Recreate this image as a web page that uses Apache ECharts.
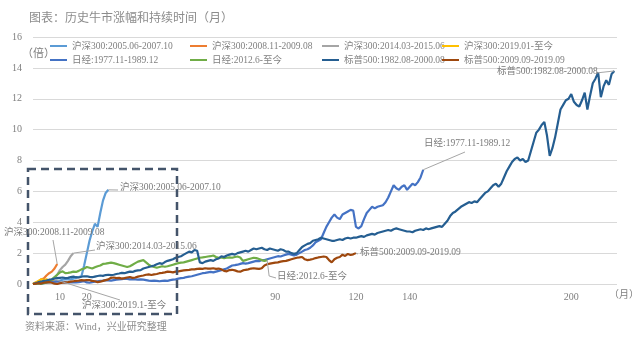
<!DOCTYPE html>
<html>
<head>
<meta charset="utf-8">
<script src="https://cdn.jsdelivr.net/npm/echarts@6/dist/echarts.min.js"></script>
<style>
  html, body { margin: 0; padding: 0; background: #fff; }
  #chart { width: 640px; height: 341px; }
</style>
</head>
<body>
<div id="chart"></div>
<script>
// Cumulative gain (multiple) by month since each bull market began
const seriesNames = [
  '沪深300:2005.06-2007.10',
  '沪深300:2008.11-2009.08',
  '沪深300:2014.03-2015.06',
  '沪深300:2019.01-至今',
  '日经:1977.11-1989.12',
  '日经:2012.6-至今',
  '标普500:1982.08-2000.08',
  '标普500:2009.09-2019.09'
];

const csi300_2005 = [0, 0.02, 0.05, 0.0, 0.05, 0.08, 0.1, 0.12, 0.15, 0.2,
  0.22, 0.28, 0.3, 0.32, 0.3, 0.35, 0.4, 0.45, 0.5, 1.2,
  2.0, 2.8, 3.4, 3.9, 3.7, 4.6, 5.4, 5.9, 6.1];

const csi300_2008 = [0, 0.1, 0.15, 0.3, 0.35, 0.55, 0.7, 0.8, 1.0, 1.3];

const csi300_2014 = [0, 0.02, 0.05, 0.03, 0.08, 0.12, 0.15, 0.2, 0.35, 0.6,
  0.9, 1.1, 1.25, 1.5, 1.8, 2.0];

const csi300_2019 = [0, 0.1, 0.2, 0.3, 0.25, 0.3, 0.22, 0.25, 0.3];

const nikkei_1977 = [0, 0.03, 0.05, 0.08, 0.1, 0.12, 0.15, 0.13, 0.16, 0.15,
  0.15, 0.12, 0.1, 0.08, 0.1, 0.12, 0.1, 0.12, 0.15, 0.18,
  0.1, 0.08, 0.12, 0.15, 0.18, 0.2, 0.22, 0.25, 0.24, 0.22,
  0.25, 0.28, 0.3, 0.32, 0.35, 0.33, 0.3, 0.32, 0.3, 0.28,
  0.3, 0.28, 0.25, 0.22, 0.2, 0.22, 0.2, 0.18, 0.2, 0.22,
  0.2, 0.25, 0.28, 0.3, 0.35, 0.38, 0.4, 0.45, 0.48, 0.5,
  0.55, 0.6, 0.65, 0.7, 0.72, 0.75, 0.78, 0.75, 0.8, 0.85,
  0.9, 0.95, 1.0, 1.1, 1.2, 1.22, 1.25, 1.3, 1.35, 1.32,
  1.35, 1.4, 1.45, 1.5, 1.48, 1.55, 1.55, 1.6, 1.65, 1.7,
  1.75, 1.8, 1.78, 1.85, 1.9, 1.95, 1.9, 1.85, 1.9, 2.0,
  2.1, 2.2, 2.25, 2.35, 2.5, 2.7, 2.8, 2.9, 3.3, 3.7,
  4.0, 4.3, 4.5, 4.3, 4.2, 4.5, 4.6, 4.7, 4.8, 4.75,
  3.7, 3.6, 3.75, 4.2, 4.6, 4.8, 5.0, 4.9, 5.0, 5.05,
  5.1, 5.3, 5.6, 6.0, 6.4, 6.2, 6.1, 6.3, 6.4, 6.1,
  6.3, 6.5, 6.4, 6.6, 6.9, 7.4];

const nikkei_2012 = [0, 0.02, 0.05, 0.03, 0.05, 0.1, 0.2, 0.3, 0.45, 0.6,
  0.75, 0.82, 0.7, 0.72, 0.75, 0.8, 0.78, 0.85, 0.95, 1.0,
  1.1, 1.05, 1.0, 1.08, 1.15, 1.2, 1.3, 1.32, 1.35, 1.38,
  1.35, 1.3, 1.25, 1.2, 1.15, 1.1, 1.15, 1.25, 1.35, 1.45,
  1.5, 1.55, 1.4, 1.25, 1.15, 1.1, 1.05, 1.1, 1.15, 1.12,
  1.15, 1.2, 1.25, 1.3, 1.35, 1.38, 1.4, 1.45, 1.5, 1.55,
  1.6, 1.65, 1.7, 1.72, 1.75, 1.78, 1.8, 1.85, 1.75, 1.7,
  1.72, 1.68, 1.7, 1.72, 1.7, 1.75, 1.78, 1.72, 1.5, 1.55,
  1.6, 1.65, 1.7, 1.68, 1.62, 1.55, 1.5, 1.55];

const sp500_1982 = [0, 0.05, 0.12, 0.15, 0.2, 0.22, 0.28, 0.3, 0.35, 0.38,
  0.4, 0.42, 0.38, 0.4, 0.45, 0.48, 0.44, 0.42, 0.47, 0.5,
  0.5, 0.46, 0.44, 0.48, 0.52, 0.55, 0.53, 0.58, 0.6, 0.57,
  0.6, 0.65, 0.68, 0.72, 0.7, 0.75, 0.8, 0.78, 0.85, 0.88,
  0.9, 1.0, 1.05, 1.1, 1.15, 1.2, 1.28, 1.35, 1.3, 1.42,
  1.5, 1.55, 1.6, 1.7, 1.75, 1.8, 1.9, 2.0, 2.1, 2.05,
  2.2, 2.15, 1.4, 1.35, 1.45, 1.5, 1.55, 1.5, 1.6, 1.65,
  1.8, 1.75, 1.85, 1.9, 1.95, 1.9, 2.0, 2.05, 2.1, 2.15,
  2.1, 2.2, 2.3, 2.25, 2.3, 2.35, 2.25, 2.2, 2.3, 2.25,
  2.2, 2.15, 2.25, 2.2, 2.1, 2.1, 2.0, 1.95, 2.0, 2.2,
  2.4, 2.5, 2.6, 2.65, 2.8, 2.85, 2.9, 3.0, 2.95, 2.9,
  2.85, 2.8, 2.8, 2.85, 2.9, 2.85, 2.95, 3.0, 2.95, 3.0,
  3.0, 3.05, 3.1, 3.05, 3.15, 3.2, 3.25, 3.2, 3.3, 3.35,
  3.4, 3.45, 3.5, 3.45, 3.55, 3.6, 3.55, 3.5, 3.45, 3.4,
  3.4, 3.35, 3.45, 3.5, 3.55, 3.5, 3.6, 3.55, 3.6, 3.65,
  3.7, 3.75, 3.7, 3.9, 4.1, 4.4, 4.6, 4.7, 4.85, 5.0,
  5.1, 5.2, 5.3, 5.25, 5.35, 5.3, 5.5, 5.7, 5.9, 6.0,
  6.2, 6.4, 6.5, 6.3, 6.5, 6.9, 7.3, 7.6, 7.9, 8.1,
  8.2, 8.0, 8.1, 7.9, 8.0, 8.6, 9.2, 9.8, 10.0, 10.3,
  10.5, 9.6, 8.3, 8.8, 9.5, 10.4, 11.3, 11.6, 11.9, 12.0,
  12.3, 11.8, 11.6, 11.5, 11.9, 12.4, 11.3, 12.2, 13.0, 13.3,
  13.7, 12.1, 12.8, 13.2, 12.9, 13.6, 13.8];

const sp500_2009 = [0, 0.02, 0.05, 0.03, 0.08, 0.1, 0.12, 0.08, 0.02, 0.0,
  0.05, 0.08, 0.1, 0.12, 0.15, 0.18, 0.2, 0.22, 0.25, 0.24,
  0.26, 0.25, 0.2, 0.18, 0.12, 0.15, 0.2, 0.25, 0.3, 0.4,
  0.42, 0.38, 0.4, 0.35, 0.38, 0.42, 0.45, 0.4, 0.42, 0.48,
  0.52, 0.55, 0.6, 0.62, 0.58, 0.62, 0.65, 0.7, 0.72, 0.75,
  0.8, 0.78, 0.75, 0.8, 0.82, 0.85, 0.88, 0.9, 0.92, 0.95,
  0.95, 0.98, 1.0, 0.98, 1.02, 1.0, 1.0, 1.02, 0.98, 1.0,
  0.95, 0.85, 0.82, 0.9, 0.92, 0.88, 0.82, 0.8, 0.88, 0.92,
  0.95, 1.0, 1.02, 1.0, 0.98, 1.02, 1.2, 1.28, 1.32, 1.35,
  1.38, 1.4, 1.45, 1.48, 1.5, 1.55, 1.6, 1.65, 1.7, 1.72,
  1.75, 1.6, 1.55, 1.58, 1.62, 1.68, 1.72, 1.75, 1.78, 1.75,
  1.55, 1.4, 1.6, 1.7, 1.75, 1.9, 1.82, 1.95, 1.88, 1.92,
  2.0];

const seriesValues = [csi300_2005, csi300_2008, csi300_2014, csi300_2019,
  nikkei_1977, nikkei_2012, sp500_1982, sp500_2009];

const seriesColors = ['#5b9bd5', '#ed7d31', '#a5a5a5', '#ffc000',
  '#4472c4', '#70ad47', '#255e91', '#9e480e'];

// Axis ticks
const yTicks = [0, 2, 4, 6, 8, 10, 12, 14, 16];
const xTickLabels = [10, 20, 90, 120, 140, 200];

// Callout text for each series end: [series index, text, text left, text middle y, leader target x, leader target y]
const callouts = [
  [0, '沪深300:2005.06-2007.10', 120, 189, 118, 190],
  [1, '沪深300:2008.11-2009.08', 4, 234, 53, 240],
  [2, '沪深300:2014.03-2015.06', 96, 248, 95, 250],
  [3, '沪深300:2019.1-至今', 82, 307, 120, 300],
  [4, '日经:1977.11-1989.12', 424, 145, 465, 152],
  [5, '日经:2012.6-至今', 277, 278, null, null],
  [7, '标普500:2009.09-2019.09', 360, 254, 358, 254],
  [6, '标普500:1982.08-2000.08', 497, 73, 596, 73]
];

const FONT = "'Liberation Serif', 'Noto Sans CJK SC', serif";
const GREY = '#7f7f7f';

const chart = echarts.init(document.getElementById('chart'), null, { renderer: 'canvas' });

const legendCols = [[0, 4], [1, 5], [2, 6], [3, 7]];
const legendLeft = [50, 190, 322, 442];

const option = {
  animation: false,
  backgroundColor: '#ffffff',
  title: {
    text: '图表：历史牛市涨幅和持续时间（月）',
    left: 24,
    top: 6,
    textStyle: { fontSize: 12, color: '#8c8c8c', fontWeight: 'normal', fontFamily: "'Noto Sans CJK SC', sans-serif" }
  },
  legend: legendCols.map((col, i) => ({
    orient: 'vertical',
    left: legendLeft[i],
    top: 40,
    padding: 0,
    itemWidth: 17,
    itemHeight: 2,
    itemGap: 2,
    icon: 'rect',
    data: col.map(k => seriesNames[k]),
    textStyle: { fontSize: 9.5, color: '#808080', fontFamily: FONT, lineHeight: 12 }
  })),
  grid: { left: 33, right: 23, top: 37, bottom: 57 },
  xAxis: {
    type: 'value',
    min: 0,
    max: 217,
    interval: 10,
    axisLine: { show: false },
    axisTick: { show: false },
    splitLine: { show: false },
    axisLabel: {
      margin: 8,
      fontSize: 10,
      color: GREY,
      fontFamily: FONT,
      showMaxLabel: false,
      formatter: v => (xTickLabels.indexOf(v) >= 0 ? String(v) : '')
    }
  },
  yAxis: {
    type: 'value',
    min: yTicks[0],
    max: yTicks[yTicks.length - 1],
    interval: 2,
    axisLine: { show: false },
    axisTick: { show: false },
    splitLine: { lineStyle: { color: '#d9d9d9', width: 1 } },
    axisLabel: { margin: 11, fontSize: 10, color: GREY, fontFamily: FONT }
  },
  series: seriesNames.map((name, i) => ({
    name: name,
    type: 'line',
    symbol: 'none',
    color: seriesColors[i],
    lineStyle: { width: 2.2, color: seriesColors[i] },
    data: seriesValues[i].map((v, m) => [m, v]),
    z: 2 + i
  }))
};

chart.setOption(option);

// Callouts, dashed frame around the short A-share runs, unit marks and source note
const graphics = [];
callouts.forEach(c => {
  const vals = seriesValues[c[0]];
  const last = vals.length - 1;
  const p = chart.convertToPixel({ gridIndex: 0 }, [last, vals[last]]);
  let pts;
  if (c[4] === null) {
    pts = [[p[0], p[1]], [p[0] + 2, c[3] - 2], [c[2] - 1, c[3]]];
  } else {
    pts = [[p[0], p[1]], [c[4], c[5]]];
  }
  graphics.push({
    type: 'polyline',
    shape: { points: pts },
    style: { stroke: '#a6a6a6', lineWidth: 1, fill: null },
    z: 20
  });
  graphics.push({
    type: 'text',
    left: c[2],
    top: c[3] - 6,
    style: { text: c[1], fill: '#7a7a7a', font: '9.5px ' + FONT },
    z: 21
  });
});

graphics.push({
  type: 'rect',
  shape: { x: 28, y: 169, width: 149, height: 145 },
  style: { stroke: '#44546a', lineWidth: 2.5, lineDash: [8, 5], fill: null },
  z: 19
});
graphics.push({
  type: 'text', left: 22, top: 49,
  style: { text: '（倍）', font: '11px ' + FONT, fill: GREY }, z: 21
});
graphics.push({
  type: 'text', left: 609, top: 290,
  style: { text: '（月）', font: '10px ' + FONT, fill: GREY }, z: 21
});
graphics.push({
  type: 'text', left: 25, top: 322,
  style: { text: '资料来源：Wind，兴业研究整理', font: '10px ' + FONT, fill: '#8c8c8c' }, z: 21
});

chart.setOption({ graphic: graphics });
</script>
</body>
</html>
